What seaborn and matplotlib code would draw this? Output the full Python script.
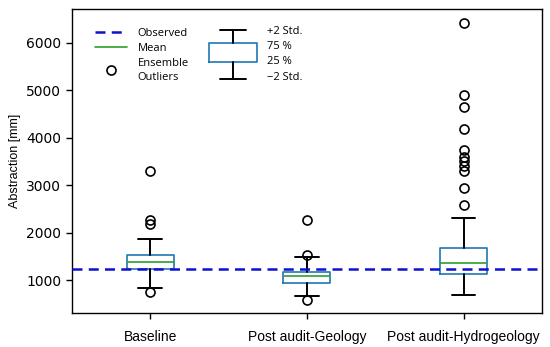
import matplotlib
matplotlib.use("Agg")
import matplotlib.pyplot as plt
from matplotlib.lines import Line2D
import seaborn as sns

sns.set_style("ticks", rc={"text.color": "black", "axes.labelcolor": "black",
                           "xtick.color": "black", "ytick.color": "black",
                           "axes.edgecolor": "black"})
plt.rcParams['font.family'] = ['DejaVu Sans']

# ---- data ----
categories = ["Baseline", "Post audit-Geology", "Post audit-Hydrogeology"]
minus2std = [840, 679, 700]
q25 = [1239, 945, 1141]
mean_vals = [1378, 1099, 1357]
q75 = [1533, 1176, 1687]
plus2std = [1876, 1491, 2323]
outliers = [
    [3310, 2275, 2191, 748],
    [2275, 1540, 595],
    [6418, 4900, 4641, 4179, 3745, 3604, 3514, 3415, 3304, 2953, 2590],
]
observed = 1240
yticks = [1000, 2000, 3000, 4000, 5000, 6000]

W, H = 550, 347
fig = plt.figure(figsize=(W / 100, H / 100), dpi=100)
ax_l, ax_r, ax_t, ax_b = 71.7, 542, 8.5, 313.3
ax = fig.add_axes([ax_l / W, 1 - ax_b / H, (ax_r - ax_l) / W, (ax_b - ax_t) / H])

stats = []
for i, c in enumerate(categories):
    stats.append(dict(label=c, whislo=minus2std[i], q1=q25[i], med=mean_vals[i],
                      q3=q75[i], whishi=plus2std[i], fliers=outliers[i]))

box_col = "#1f77b4"
ax.bxp(stats, positions=[1, 2, 3], widths=0.30, capwidths=0.15, showfliers=True,
       boxprops=dict(color=box_col, linewidth=1.2),
       medianprops=dict(color="#2ca02c", linewidth=1.2),
       whiskerprops=dict(color="black", linewidth=1.4),
       capprops=dict(color="black", linewidth=1.4),
       flierprops=dict(marker="o", markerfacecolor="none", markeredgecolor="black",
                       markersize=6.5, markeredgewidth=1.2))

ax.axhline(observed, color="#1010d0", linestyle=(0, (4, 2.5)), linewidth=1.8, zorder=5)

ax.set_xlim(0.5, 3.5)
ax.set_ylim(310, 6715)
ax.set_yticks(yticks)
ax.set_xticks([1, 2, 3])
ax.set_xticklabels(categories, fontfamily="Liberation Sans", fontsize=10)
ax.tick_params(axis="y", labelsize=10, length=4, width=1, colors="black")
ax.tick_params(axis="x", length=4, width=1, pad=8, colors="black")
for s in ax.spines.values():
    s.set_linewidth(1.0)
    s.set_color("black")
ax.set_ylabel("Abstraction [mm]", fontfamily="Liberation Sans", fontsize=9, color="black")
ax.yaxis.set_label_coords(-0.108, 0.5)

# ---- legend (left part) ----
handles = [
    Line2D([], [], color="#1010d0", linestyle=(0, (4, 2.5)), linewidth=1.8),
    Line2D([], [], color="#2ca02c", linewidth=1.2),
    Line2D([], [], color="none", marker="o", markerfacecolor="none",
           markeredgecolor="black", markersize=6.5, markeredgewidth=1.2),
]
labels = ["Observed", "Mean", "Ensemble\nOutliers"]
leg = ax.legend(handles, labels, loc="upper left",
                bbox_to_anchor=((95 - ax_l) / (ax_r - ax_l), 1 - (28.2 - ax_t) / (ax_b - ax_t)),
                frameon=False, borderpad=0, borderaxespad=0, handlelength=2.9,
                handletextpad=0.95, labelspacing=0.33,
                prop=dict(family="Open Sans", size=8))
for t in leg.get_texts():
    t.set_linespacing(1.4)
    t.set_color("black")

# ---- legend (right part): a key box drawn in a small inset axes ----
kx0, kx1, ky0, ky1 = 200, 266, 25, 84.3
kax = fig.add_axes([kx0 / W, 1 - ky1 / H, (kx1 - kx0) / W, (ky1 - ky0) / H])
kax.bxp([dict(whislo=0, q1=17.6, med=17.6, q3=36, whishi=49.3, fliers=[])],
        positions=[1], widths=0.72, capwidths=0.38, showfliers=False,
        boxprops=dict(color=box_col, linewidth=1.2),
        medianprops=dict(linewidth=0),
        whiskerprops=dict(color="black", linewidth=1.4),
        capprops=dict(color="black", linewidth=1.4))
kax.set_xlim(0.5, 1.5)
kax.set_ylim(-5, 54.3)
kax.axis("off")

key_labels = ["+2 Std.", "75 %", "25 %", "\u22122 Std."]
key_y = [31.7, 46.7, 61.7, 77.2]
for lab, yy in zip(key_labels, key_y):
    fig.text(267 / W, 1 - yy / H, lab, ha="left", va="center",
             fontfamily="Open Sans", fontsize=8, color="black")

fig.savefig("out.png", dpi=100)
